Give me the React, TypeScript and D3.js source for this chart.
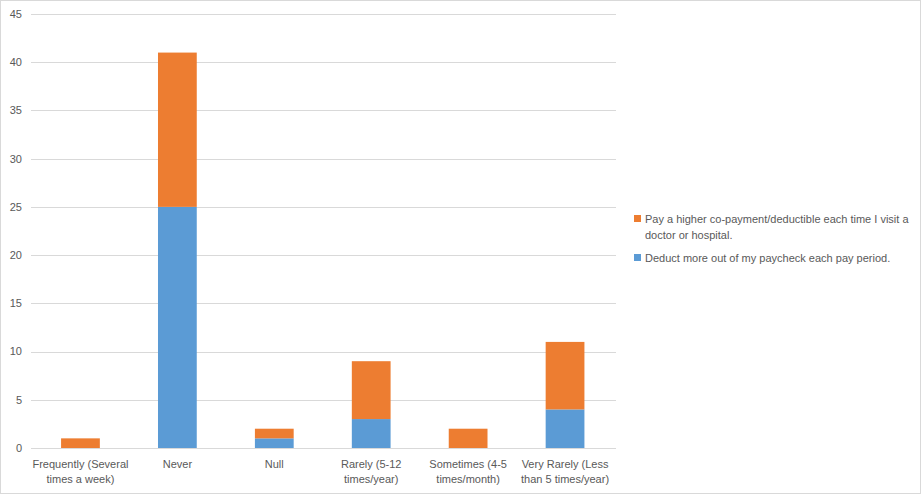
import { scaleBand, scaleLinear, stack } from "d3";

const categories = [
  ["Frequently (Several", "times a week)"],
  ["Never"],
  ["Null"],
  ["Rarely (5-12", "times/year)"],
  ["Sometimes (4-5", "times/month)"],
  ["Very Rarely (Less", "than 5 times/year)"],
];
const deductValues = [0, 25, 1, 3, 0, 4];
const copayValues = [1, 16, 1, 6, 2, 7];
const yTicks = [0, 5, 10, 15, 20, 25, 30, 35, 40, 45];

const seriesNames = [
  "Deduct more out of my paycheck each pay period.",
  "Pay a higher co-payment/deductible each time I visit a doctor or hospital.",
];
const legendLines = [
  ["Pay a higher co-payment/deductible each time I visit a", "doctor or hospital."],
  ["Deduct more out of my paycheck each pay period."],
];
const colors = ["#5b9bd5", "#ed7d31"];

export default function App() {
  const width = 922;
  const height = 495;
  const plot = { left: 31, right: 616, top: 14, bottom: 448 };
  const font = "'Liberation Sans', Arial, sans-serif";
  const textColor = "#595959";

  const rows = categories.map((_, i) => ({
    idx: i,
    s0: deductValues[i],
    s1: copayValues[i],
  }));
  const stacked = stack<any>().keys(["s0", "s1"])(rows);

  // category bands sit slightly inside the gridline extent
  const x = scaleBand<number>()
    .domain(categories.map((_, i) => i))
    .range([32, 613.5])
    .paddingInner(0.6)
    .paddingOuter(0.3);
  const y = scaleLinear().domain([0, 45]).range([plot.bottom, plot.top]);
  const mid = (i: number) => (x(i) ?? 0) + x.bandwidth() / 2;

  return (
    <svg
      width={width}
      height={height}
      style={{ position: "absolute", left: 0, top: 0, background: "#fff" }}
      fontFamily={font}
    >
      <rect x={0.5} y={0.5} width={920} height={493} fill="#fff" stroke="#d9d9d9" />
      <g>
        {yTicks.map((t) => (
          <g key={t}>
            <line
              x1={plot.left}
              x2={plot.right}
              y1={Math.round(y(t)) + 0.5}
              y2={Math.round(y(t)) + 0.5}
              stroke="#d9d9d9"
            />
            <text
              x={22}
              y={y(t)}
              dy="0.35em"
              textAnchor="end"
              fontSize={11}
              fill={textColor}
            >
              {t}
            </text>
          </g>
        ))}
      </g>
      <g>
        {stacked.map((layer, si) => (
          <g key={seriesNames[si]} fill={colors[si]}>
            {layer.map((d, i) => {
              const h = y(d[0]) - y(d[1]);
              if (h <= 0) return null;
              return (
                <rect
                  key={i}
                  x={x(i)}
                  y={y(d[1])}
                  width={x.bandwidth()}
                  height={h}
                />
              );
            })}
          </g>
        ))}
      </g>
      <g>
        {categories.map((lines, i) => (
          <text key={i} x={mid(i)} y={468} textAnchor="middle" fontSize={11} fill={textColor}>
            {lines.map((l, li) => (
              <tspan key={li} x={mid(i)} dy={li === 0 ? 0 : 15}>
                {l}
              </tspan>
            ))}
          </text>
        ))}
      </g>
      <g>
        {legendLines.map((lines, li) => {
          const top = li === 0 ? 215 : 254;
          const color = li === 0 ? colors[1] : colors[0];
          return (
            <g key={li}>
              <rect x={634} y={top} width={7} height={7} fill={color} />
              <text x={645} y={top + 7.5} fontSize={11} fill={textColor}>
                {lines.map((l, k) => (
                  <tspan key={k} x={645} dy={k === 0 ? 0 : 16}>
                    {l}
                  </tspan>
                ))}
              </text>
            </g>
          );
        })}
      </g>
    </svg>
  );
}
